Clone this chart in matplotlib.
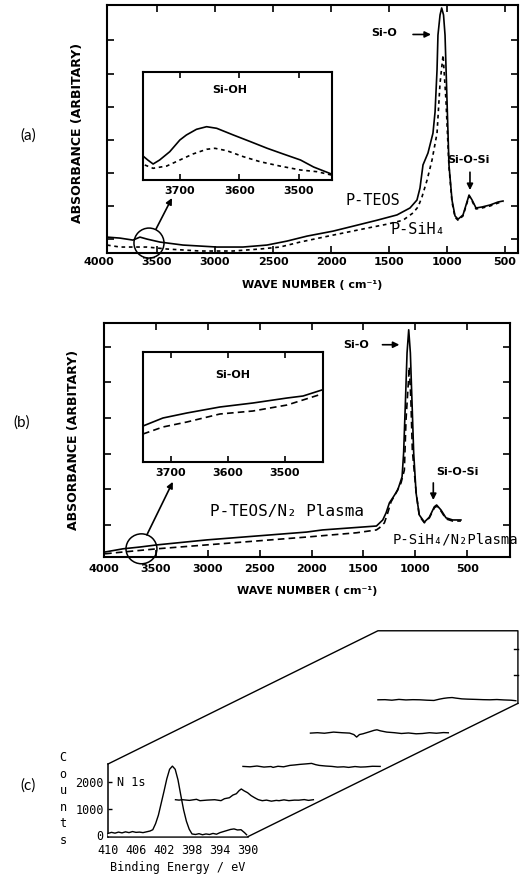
import matplotlib
matplotlib.use('Agg')
import matplotlib.pyplot as plt
from matplotlib.patches import Ellipse

# ---------------- data ----------------
# (a) FTIR, P-TEOS (solid) and P-SiH4 (dashed)
a_teos_wn = [3931, 3819, 3707, 3647, 3586, 3474, 3276, 2983, 2759, 2552, 2379, 2207, 1983, 1810, 1603,
             1431, 1319, 1259, 1233, 1207, 1164, 1121, 1103, 1086, 1078, 1060, 1046, 1030, 1017, 1000,
             983, 957, 931, 905, 862, 828, 810, 784, 750, 698, 629, 560, 517]
a_teos_abs = [0.06, 0.03, -0.03, 0.06, 0.0, -0.09, -0.18, -0.24, -0.24, -0.18, -0.06, 0.09, 0.24, 0.39, 0.57,
              0.73, 0.94, 1.18, 1.54, 2.24, 2.60, 3.20, 3.84, 5.11, 6.16, 6.77, 6.98, 6.77, 6.16, 4.19,
              2.24, 1.18, 0.70, 0.60, 0.73, 1.12, 1.33, 1.18, 0.94, 0.97, 1.03, 1.12, 1.15]
a_sih4_wn = [3931, 3819, 3707, 3586, 3414, 3129, 2845, 2612, 2440, 2267, 1983, 1690, 1517, 1379, 1293,
             1250, 1216, 1172, 1129, 1086, 1060, 1034, 1009, 983, 957, 931, 905, 862, 828, 810,
             784, 750, 698, 629, 560, 517]
a_sih4_abs = [-0.18, -0.24, -0.24, -0.24, -0.30, -0.36, -0.36, -0.30, -0.24, -0.09, 0.12, 0.33, 0.45, 0.57, 0.79,
              0.97, 1.27, 1.78, 2.39, 3.20, 4.71, 5.56, 4.19, 2.18, 1.12, 0.66, 0.57, 0.70, 1.09, 1.30,
              1.15, 0.91, 0.94, 1.0, 1.09, 1.12]
# (a) inset, Si-OH region
ia_teos_wn = [3762, 3754, 3745, 3734, 3717, 3700, 3689, 3672, 3655, 3638, 3610, 3581, 3553, 3526, 3497, 3475, 3445]
ia_teos_abs = [2.4, 2.0, 1.6, 2.0, 2.83, 4.0, 4.5, 5.07, 5.33, 5.17, 4.5, 3.83, 3.17, 2.6, 2.0, 1.3, 0.6]
ia_sih4_wn = [3759, 3745, 3722, 3700, 3678, 3655, 3641, 3621, 3593, 3565, 3532, 3497, 3469, 3445]
ia_sih4_abs = [1.5, 1.17, 1.4, 2.0, 2.6, 3.07, 3.17, 2.93, 2.33, 1.83, 1.4, 1.0, 0.83, 0.5]

# (b) FTIR after N2 plasma
b_teos_wn = [3990, 3817, 3654, 3490, 3010, 2529, 2048, 1894, 1375, 1314, 1282, 1250, 1218, 1170, 1128, 1113,
             1096, 1080, 1064, 1048, 1032, 1016, 993, 962, 913, 865, 817, 795, 753, 705, 641, 561]
b_teos_abs = [-0.76, -0.67, -0.62, -0.56, -0.42, -0.31, -0.20, -0.14, -0.03, 0.14, 0.34, 0.62, 0.76, 0.98, 1.35, 2.02,
              3.43, 4.83, 5.48, 4.83, 3.43, 2.02, 0.90, 0.28, 0.08, 0.22, 0.51, 0.56, 0.42, 0.20, 0.14, 0.14]
b_sih4_wn = [3990, 3817, 3490, 3010, 2529, 2048, 1567, 1375, 1346, 1298, 1266, 1234, 1186, 1138, 1106, 1090,
             1058, 1043, 1029, 993, 962, 913, 865, 817, 795, 753, 705, 641, 561]
b_sih4_abs = [-0.81, -0.76, -0.67, -0.56, -0.45, -0.34, -0.22, -0.14, -0.08, 0.06, 0.34, 0.65, 0.90, 1.18, 1.54, 2.95,
              4.44, 3.5, 2.1, 0.93, 0.25, 0.06, 0.2, 0.48, 0.53, 0.39, 0.17, 0.11, 0.11]
# (b) inset
ib_teos_wn = [3749, 3714, 3672, 3614, 3556, 3496, 3468, 3435]
ib_teos_abs = [3.6, 4.4, 4.9, 5.5, 5.9, 6.4, 6.6, 7.2]
ib_sih4_wn = [3749, 3714, 3672, 3614, 3556, 3496, 3435]
ib_sih4_abs = [2.8, 3.5, 4.0, 4.8, 5.1, 5.7, 6.8]

wn_ticks = [4000, 3500, 3000, 2500, 2000, 1500, 1000, 500]
inset_ticks = [3700, 3600, 3500]

# (c) XPS N 1s, front spectrum and four stacked spectra behind it
c_ev0 = [410.0, 409.5, 409.0, 408.5, 408.0, 407.5, 407.0, 406.5, 406.0, 405.5, 405.0, 404.5, 404.0,
         403.6, 403.2, 402.8, 402.4, 402.0, 401.6, 401.2, 400.8, 400.4, 400.0, 399.6, 399.2, 398.8, 398.4, 398.0,
         397.5, 397.0, 396.5, 396.0, 395.5, 395.0, 394.5, 394.0, 393.5, 393.0, 392.5, 392.0, 391.5, 391.0, 390.5, 390.2]
c_ct0 = [60, 100, 70, 110, 80, 120, 90, 130, 100, 110, 90, 120, 150,
         200, 430, 750, 1200, 1650, 2120, 2480, 2600, 2480, 2080, 1500, 950, 520, 220, 40,
         20, 50, 10, 40, 20, 60, 30, 90, 130, 170, 210, 230, 190, 200, 90, 10]
c_ev1 = [410.0, 409.5, 409.0, 408.0, 407.0, 406.5, 405.5, 404.4, 403.5, 403.0, 402.3, 401.8, 401.3, 400.9, 400.6,
         400.2, 399.7, 399.2, 398.7, 398.2, 397.6, 397.0, 396.3, 395.6, 395.2, 394.5, 393.8, 393.0, 392.4, 391.6,
         391.0, 390.3]
c_ct1 = [75, 60, 75, 50, 90, 38, 60, 75, 40, 113, 150, 250, 302, 420, 480,
         410, 340, 230, 151, 80, 38, 60, 20, 50, 38, 70, 40, 60, 57, 80, 50, 75]
c_ev2 = [410.0, 409.0, 408.0, 407.0, 406.0, 405.7, 405.0, 404.2, 403.3, 402.6, 401.9, 401.0, 400.2, 399.6,
         399.1, 398.2, 397.3, 396.5, 395.6, 394.9, 394.0, 393.2, 392.5, 391.5, 390.4]
c_ct2 = [75, 60, 90, 50, 70, 38, 80, 60, 113, 130, 151, 170, 189, 140, 113, 90, 75, 50, 60, 38, 70, 50, 57, 80, 75]
c_ev3 = [410.0, 409.0, 408.0, 406.7, 405.5, 404.4, 403.8, 403.4, 403.0, 402.5, 401.5, 400.9, 400.5, 400.0,
         399.1, 398.0, 397.0, 396.0, 394.9, 394.0, 393.0, 392.0, 391.0, 390.3]
c_ct3 = [75, 90, 70, 113, 90, 75, 20, -75, 20, 49, 130, 180, 200, 160, 113, 90, 60, 80, 49, 60, 90, 70, 95, 87]
c_ev4 = [410.0, 409.0, 408.0, 407.0, 406.0, 405.0, 404.0, 403.0, 402.0, 401.2, 400.6, 400.0, 399.4, 398.9,
         398.0, 397.2, 396.0, 395.0, 394.0, 393.0, 392.0, 391.0, 390.3]
c_ct4 = [75, 80, 60, 90, 70, 80, 75, 60, 50, 100, 130, 150, 160, 140, 110, 100, 90, 80, 75, 85, 70, 60, 40]
ev_ticks = [410, 406, 402, 398, 394, 390]
ct_ticks = [0, 1000, 2000]

# ---------------- figure ----------------
W, H = 525, 874
fig = plt.figure(figsize=(W / 100, H / 100), dpi=100)
plt.rcParams['font.family'] = 'DejaVu Sans'


def rect(l, t, r, b):
    return [l / W, 1 - b / H, (r - l) / W, (b - t) / H]


TYPE = dict(family=['DejaVu Sans Mono', 'DejaVu Sans'])
BOLD = dict(fontweight='bold', family='DejaVu Sans')
MONO = dict(family='DejaVu Sans Mono')
LETTER = dict(family=['Lato', 'DejaVu Sans'], fontsize=11)

LW = 1.2
SP = 1.5


def style_main(ax, pad):
    for s in ax.spines.values():
        s.set_linewidth(SP)
    ax.tick_params(direction='in', top=True, right=True, length=5, width=1.2, pad=pad)
    ax.set_yticklabels([])


def arrow(ax, tail, head):
    ax.annotate('', xy=head, xytext=tail,
                arrowprops=dict(arrowstyle='-|>', color='black', lw=1.2, mutation_scale=9,
                                shrinkA=0, shrinkB=0), annotation_clip=False)


# ===== (a) =====
axA = fig.add_axes(rect(107, 5, 518, 253))
axA.plot(a_teos_wn, a_teos_abs, color='black', lw=LW)
axA.plot(a_sih4_wn, a_sih4_abs, color='black', lw=LW, ls=(0, (2.2, 2.2)))
axA.set_xlim(3931, 388)
axA.set_ylim(-0.42, 7.07)
axA.set_xticks(wn_ticks[1:], labels=[str(t) for t in wn_ticks[1:]], fontsize=8, **BOLD)
axA.set_yticks(range(7))
style_main(axA, 3)
axA.annotate(str(wn_ticks[0]), xy=(wn_ticks[0], 0), xycoords=('data', 'axes fraction'),
             xytext=(0, -3), textcoords='offset points', ha='center', va='top', fontsize=8, **BOLD,
             annotation_clip=False)
axA.set_xlabel('WAVE NUMBER ( cm⁻¹)', fontsize=8, labelpad=9, **BOLD)
fig.text(77 / W, 1 - 133 / H, 'ABSORBANCE (ARBITARY)', rotation=90, ha='center', va='center',
         fontsize=9, **BOLD)
axA.add_patch(Ellipse((3569, -0.12), width=259, height=0.906, fill=False, lw=1.1, color='black',
                      clip_on=False))
arrow(axA, (3509, 0.3), (3371, 1.24))
axA.text(1543, 6.22, 'Si-O', ha='center', va='center', fontsize=8, **BOLD)
arrow(axA, (1293, 6.18), (1138, 6.18))
axA.text(1000, 2.39, 'Si-O-Si', ha='left', va='center', fontsize=8, clip_on=False, **BOLD)
arrow(axA, (802, 2.02), (802, 1.48))
axA.text(1638, 1.18, 'P-TEOS', ha='center', va='center', fontsize=11, **TYPE)
axA.text(1250, 0.30, 'P-SiH₄', ha='center', va='center', fontsize=11, **TYPE)
fig.text(28 / W, 1 - 136 / H, '(a)', ha='center', va='center', **LETTER)

# inset (a)
iA = fig.add_axes(rect(143, 72, 332, 180))
iA.plot(ia_teos_wn, ia_teos_abs, color='black', lw=LW)
iA.plot(ia_sih4_wn, ia_sih4_abs, color='black', lw=LW, ls=(0, (2.2, 2.2)))
iA.set_xlim(3762, 3444)
iA.set_ylim(0, 10.8)
iA.set_xticks(inset_ticks, labels=[str(t) for t in inset_ticks], fontsize=8, **BOLD)
iA.set_yticks([])
for s in iA.spines.values():
    s.set_linewidth(SP)
iA.tick_params(direction='in', top=True, length=4, width=1.2, pad=4)
iA.text(0.46, 0.83, 'Si-OH', transform=iA.transAxes, ha='center', va='center', fontsize=8, **BOLD)

# ===== (b) =====
axB = fig.add_axes(rect(104, 323, 510, 557))
axB.plot(b_teos_wn, b_teos_abs, color='black', lw=LW)
axB.plot(b_sih4_wn, b_sih4_abs, color='black', lw=LW, ls=(0, (4, 2.5)))
axB.set_xlim(4000, 88)
axB.set_ylim(-0.9, 5.67)
axB.set_xticks(wn_ticks, labels=[str(t) for t in wn_ticks], fontsize=8, **BOLD)
axB.set_yticks(range(6))
style_main(axB, 5)
axB.set_xlabel('WAVE NUMBER ( cm⁻¹)', fontsize=8, labelpad=9, **BOLD)
fig.text(74 / W, 1 - 440 / H, 'ABSORBANCE (ARBITARY)', rotation=90, ha='center', va='center',
         fontsize=9, **BOLD)
axB.add_patch(Ellipse((3639, -0.67), width=298, height=0.84, fill=False, lw=1.1, color='black',
                      clip_on=False))
arrow(axB, (3587, -0.28), (3337, 1.21))
axB.text(1567, 5.06, 'Si-O', ha='center', va='center', fontsize=8, **BOLD)
arrow(axB, (1317, 5.06), (1154, 5.06))
axB.text(596, 1.49, 'Si-O-Si', ha='center', va='center', fontsize=8, **BOLD)
arrow(axB, (827, 1.18), (827, 0.70))
axB.text(2240, 0.37, 'P-TEOS/N₂ Plasma', ha='center', va='center', fontsize=11.5, **TYPE)
axB.text(1221, -0.42, 'P-SiH₄/N₂Plasma', ha='left', va='center', fontsize=10, clip_on=False, **TYPE)
fig.text(22 / W, 1 - 423 / H, '(b)', ha='center', va='center', **LETTER)

# inset (b)
iB = fig.add_axes(rect(143, 352, 323, 462))
iB.plot(ib_teos_wn, ib_teos_abs, color='black', lw=LW)
iB.plot(ib_sih4_wn, ib_sih4_abs, color='black', lw=LW, ls=(0, (4, 2.5)))
iB.set_xlim(3749, 3433)
iB.set_ylim(0, 11)
iB.set_xticks(inset_ticks, labels=[str(t) for t in inset_ticks], fontsize=8, **BOLD)
iB.set_yticks([])
for s in iB.spines.values():
    s.set_linewidth(SP)
iB.tick_params(direction='in', top=True, length=4, width=1.2, pad=4)
iB.text(0.5, 0.79, 'Si-OH', transform=iB.transAxes, ha='center', va='center', fontsize=8, **BOLD)

# ===== (c) =====
axC = fig.add_axes(rect(108, 764, 248, 836.6))
axC.patch.set_alpha(0)
YMIN, YMAX = -60, 2680
axC.set_xlim(410, 390)
axC.set_ylim(YMIN, YMAX)
axC.spines['top'].set_visible(False)
axC.spines['right'].set_visible(False)
for s in ('left', 'bottom'):
    axC.spines[s].set_linewidth(1.1)
axC.set_xticks(ev_ticks, labels=[str(t) for t in ev_ticks], fontsize=8.5, **MONO)
axC.set_yticks(ct_ticks, labels=[str(t) for t in ct_ticks], fontsize=8.5, **MONO)
axC.tick_params(axis='y', direction='in', length=3, width=1, pad=3)
axC.tick_params(axis='x', length=0, pad=5)
axC.set_xlabel('Binding Energy / eV', fontsize=8.5, labelpad=3, **MONO)

DX, DY = 9.64, 1257
layers = [(c_ev0, c_ct0), (c_ev1, c_ct1), (c_ev2, c_ct2), (c_ev3, c_ct3), (c_ev4, c_ct4)]
for k, (ev, ct) in enumerate(layers):
    xs = [e - k * DX for e in ev]
    ys = [c + k * DY for c in ct]
    if k == 0:
        axC.fill_between(xs, ys, 0, color='white', zorder=6, clip_on=False)
    axC.plot(xs, ys, color='black', lw=1.0, zorder=7 - k, clip_on=False)

# outline of the stacked box
axC.plot([410, 410 - 4 * DX, 390 - 4 * DX, 390 - 4 * DX],
         [YMAX, YMAX + 4 * DY, YMAX + 4 * DY, YMIN + 4 * DY],
         color='black', lw=1.0, clip_on=False, zorder=8)
axC.plot([390, 390 - 4 * DX], [YMIN, YMIN + 4 * DY], color='black', lw=1.0, clip_on=False, zorder=8)
for c in ct_ticks[1:]:
    axC.plot([390 - 4 * DX, 390 - 4 * DX + 0.6], [c + 4 * DY, c + 4 * DY], color='black', lw=1.0,
             clip_on=False, zorder=8)
axC.text(408.7, 2000, 'N 1s', ha='left', va='center', fontsize=8.5, **MONO)
fig.text(63 / W, 1 - 799 / H, 'C\no\nu\nn\nt\ns', ha='center', va='center', fontsize=8.5,
         linespacing=1.35, **MONO)
fig.text(28 / W, 1 - 786 / H, '(c)', ha='center', va='center', **LETTER)

fig.savefig('out.png', dpi=100, facecolor='white')
